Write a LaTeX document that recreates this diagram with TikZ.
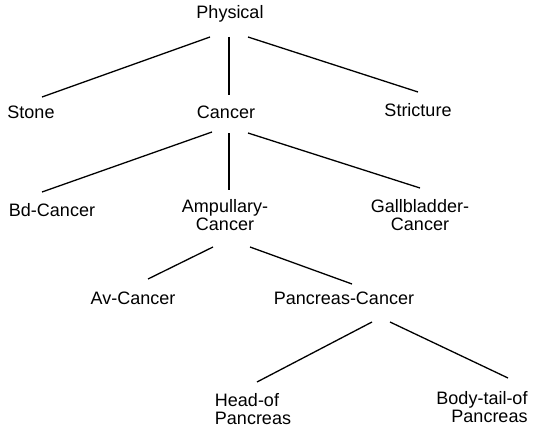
\documentclass[tikz,border=0pt]{standalone}
\usepackage{fontspec}
\setmainfont{Liberation Sans}
\begin{document}
\begin{tikzpicture}[
	x=1pt, y=-1pt,
	term/.style={ inner sep=0pt, font=\fontsize{18}{18}\selectfont, align=center },
	edge/.style={ line width=1.3pt }
]
\useasboundingbox (0,0) rectangle (533,428);

\node[term] at (230,14) (phys) {Physical};
\node[term] at (31,112) (stone) {Stone};
\node[term] at (226,112) (canc) {Cancer};
\node[term] at (418,110) (strict) {Stricture};
\node[term] at (52,210) (bdc) {Bd-Cancer};
\node[term] at (225,215) (ampc) {Ampullary-\\Cancer};
\node[term] at (420,215) (gallc) {Gallbladder-\\Cancer};
\node[term] at (133,298) (avc) {Av-Cancer};
\node[term] at (344,298) (pancc) {Pancreas-Cancer};
\node[term, align=left] at (253,409) (head) {Head-of\\Pancreas};
\node[term, align=right] at (482,407) (body) {Body-tail-of\\Pancreas};

\draw[edge] ([shift={(-20,23)}]phys.center) to ([shift={(11,-15)}]stone.center);
\draw[edge] ([shift={(-1,23)}]phys.center) to ([shift={(3,-17)}]canc.center);
\draw[edge] ([shift={(18,23)}]phys.center) to ([shift={(0,-18)}]strict.center);
\draw[edge] ([shift={(-14,20)}]canc.center) to ([shift={(-10,-18)}]bdc.center);
\draw[edge] ([shift={(3,21)}]canc.center) to ([shift={(4,-25)}]ampc.center);
\draw[edge] ([shift={(22,21)}]canc.center) to ([shift={(0,-27)}]gallc.center);
\draw[edge] ([shift={(-12,32)}]ampc.center) to ([shift={(15,-19)}]avc.center);
\draw[edge] ([shift={(25,32)}]ampc.center) to ([shift={(8,-14)}]pancc.center);
\draw[edge] ([shift={(28,24)}]pancc.center) to ([shift={(4,-27)}]head.center);
\draw[edge] ([shift={(46,24)}]pancc.center) to ([shift={(26,-29)}]body.center);

\end{tikzpicture}
\end{document}
